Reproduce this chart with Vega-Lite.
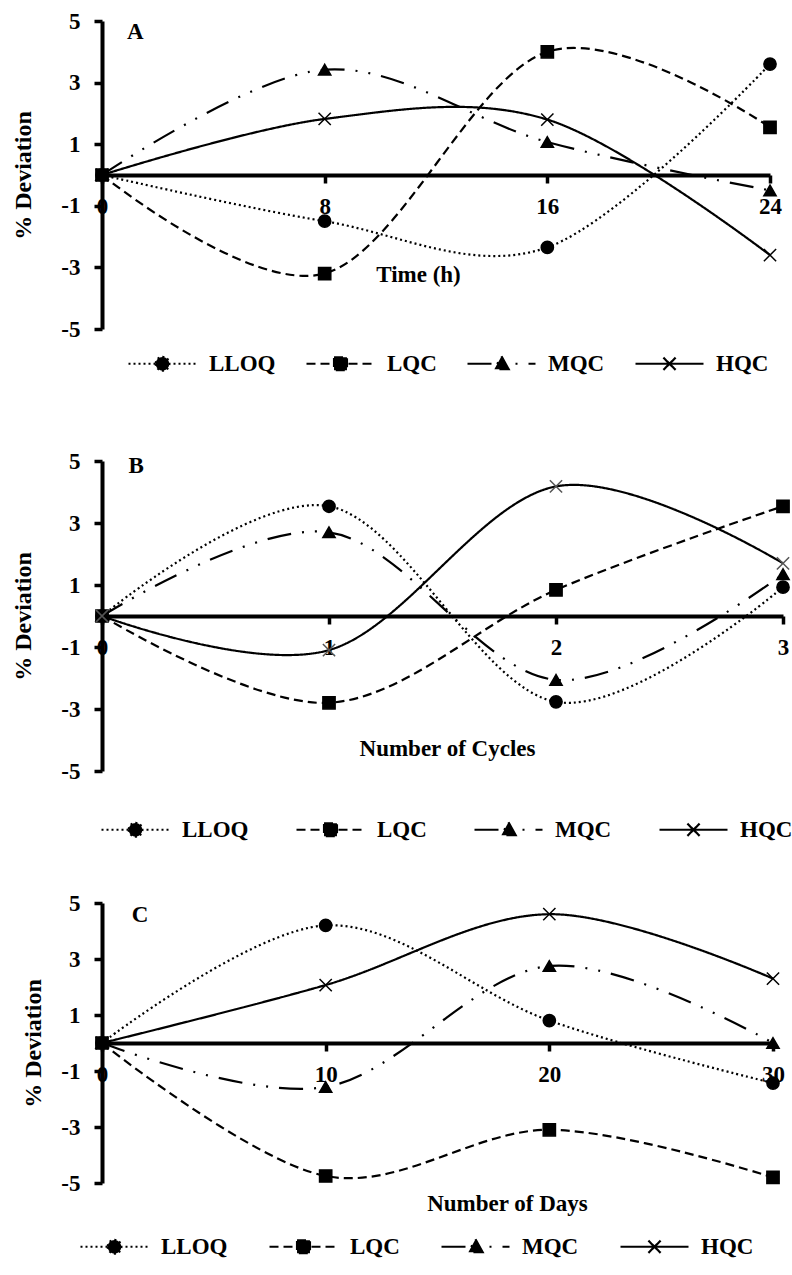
{
  "$schema": "https://vega.github.io/schema/vega-lite/v6.json",
  "background": "white",
  "padding": {"left": 11, "top": 10, "right": 0, "bottom": 0},
  "bounds": "flush",
  "spacing": 132,
  "resolve": {
    "scale": {"strokeDash": "independent", "shape": "independent"},
    "legend": {"strokeDash": "independent", "shape": "independent"}
  },
  "config": {
    "view": {"stroke": null},
    "font": "Liberation Serif",
    "axis": {
      "domainColor": "black", "domainWidth": 4, "tickColor": "black", "tickWidth": 3.5, "tickSize": 8,
      "labelFont": "Liberation Serif", "labelFontWeight": "bold", "labelFontSize": 23, "labelColor": "black",
      "titleFont": "Liberation Serif", "titleFontWeight": "bold", "titleFontSize": 23, "titleColor": "black",
      "grid": false, "labelFlush": false, "labelOverlap": false, "labelBound": false,
      "labelExpr": "'' + datum.value"
    },
    "legend": {
      "padding": 0, "labelFont": "Liberation Serif", "labelFontWeight": "bold", "labelFontSize": 23, "labelColor": "black",
      "symbolSize": 4624, "symbolStrokeWidth": 2.2, "labelOffset": 11, "symbolOpacity": 1,
      "symbolFillColor": "black", "symbolStrokeColor": "black"
    },
    "point": {"filled": true, "fill": "black", "stroke": "black", "strokeWidth": 1.5, "size": 150, "opacity": 1}
  },
  "datasets": {
    "A": [
      {"x": 0, "series": "LLOQ", "value": 0}, {"x": 8, "series": "LLOQ", "value": -1.5}, {"x": 16, "series": "LLOQ", "value": -2.35}, {"x": 24, "series": "LLOQ", "value": 3.6},
      {"x": 0, "series": "LQC", "value": 0}, {"x": 8, "series": "LQC", "value": -3.2}, {"x": 16, "series": "LQC", "value": 4.0}, {"x": 24, "series": "LQC", "value": 1.55},
      {"x": 0, "series": "MQC", "value": 0}, {"x": 8, "series": "MQC", "value": 3.42}, {"x": 16, "series": "MQC", "value": 1.07}, {"x": 24, "series": "MQC", "value": -0.5},
      {"x": 0, "series": "HQC", "value": 0}, {"x": 8, "series": "HQC", "value": 1.82}, {"x": 16, "series": "HQC", "value": 1.8}, {"x": 24, "series": "HQC", "value": -2.6}
    ],
    "B": [
      {"x": 0, "series": "LLOQ", "value": 0}, {"x": 1, "series": "LLOQ", "value": 3.54}, {"x": 2, "series": "LLOQ", "value": -2.77}, {"x": 3, "series": "LLOQ", "value": 0.93},
      {"x": 0, "series": "LQC", "value": 0}, {"x": 1, "series": "LQC", "value": -2.8}, {"x": 2, "series": "LQC", "value": 0.84}, {"x": 3, "series": "LQC", "value": 3.54},
      {"x": 0, "series": "MQC", "value": 0}, {"x": 1, "series": "MQC", "value": 2.7}, {"x": 2, "series": "MQC", "value": -2.06}, {"x": 3, "series": "MQC", "value": 1.35},
      {"x": 0, "series": "HQC", "value": 0}, {"x": 1, "series": "HQC", "value": -1.1}, {"x": 2, "series": "HQC", "value": 4.18}, {"x": 3, "series": "HQC", "value": 1.7}
    ],
    "C": [
      {"x": 0, "series": "LLOQ", "value": 0}, {"x": 10, "series": "LLOQ", "value": 4.2}, {"x": 20, "series": "LLOQ", "value": 0.8}, {"x": 30, "series": "LLOQ", "value": -1.43},
      {"x": 0, "series": "LQC", "value": 0}, {"x": 10, "series": "LQC", "value": -4.75}, {"x": 20, "series": "LQC", "value": -3.1}, {"x": 30, "series": "LQC", "value": -4.8},
      {"x": 0, "series": "MQC", "value": 0}, {"x": 10, "series": "MQC", "value": -1.57}, {"x": 20, "series": "MQC", "value": 2.75}, {"x": 30, "series": "MQC", "value": 0},
      {"x": 0, "series": "HQC", "value": 0}, {"x": 10, "series": "HQC", "value": 2.07}, {"x": 20, "series": "HQC", "value": 4.6}, {"x": 30, "series": "HQC", "value": 2.3}
    ]
  },
  "vconcat": [
    {
      "width": 668, "height": 308,
      "layer": [
        {
          "data": {"name": "A"},
          "encoding": {
            "x": {"field": "x", "type": "quantitative", "scale": {"domain": [0, 24], "nice": false, "zero": false},
                  "axis": {"values": [0, 8, 16, 24], "offset": -154, "title": "Time (h)", "titlePadding": 45, "titleX": 316, "labelPadding": 12}},
            "y": {"field": "value", "type": "quantitative", "scale": {"domain": [-5, 5], "nice": false},
                  "axis": {"values": [-5, -3, -1, 1, 3, 5], "title": "% Deviation", "titleFontSize": 24, "labelPadding": 14, "titlePadding": 25}}
          },
          "layer": [
            {
              "mark": {"type": "line", "interpolate": "cardinal", "strokeWidth": 2.2, "color": "black"},
              "encoding": {
                "strokeDash": {"field": "series", "type": "nominal",
                  "scale": {"domain": ["LLOQ", "LQC", "MQC", "HQC"], "range": [[2, 3], [9, 5], [24, 11, 2, 11, 2, 11], [1, 0]]},
                  "legend": {"orient": "none", "legendX": 25, "legendY": 307, "direction": "horizontal", "title": null, "columnPadding": 26,
                    "symbolSize": 4624, "symbolFillColor": "black", "symbolStrokeColor": "black", "symbolOpacity": 1}}
              }
            },
            {
              "mark": {"type": "point", "filled": true, "fill": "black", "stroke": "black", "strokeWidth": 2.2, "size": 0},
              "encoding": {
                "shape": {"field": "series", "type": "nominal",
                  "scale": {"domain": ["LLOQ", "LQC", "MQC", "HQC"], "range": ["M-1,0L1,0M-0.2,0A0.2,0.2 0 1,0 0.2,0A0.2,0.2 0 1,0 -0.2,0Z", "M-1,0L1,0M-0.19,-0.19L0.19,-0.19L0.19,0.19L-0.19,0.19Z", "M-1,0L1,0M0,-0.22L0.21,0.16L-0.21,0.16Z", "M-1,0L1,0M-0.18,-0.18L0.18,0.18M-0.18,0.18L0.18,-0.18"]},
                  "legend": null}
              }
            },
            {"transform": [{"filter": "datum.series === 'LLOQ'"}], "mark": {"type": "point", "shape": "circle"}},
            {"transform": [{"filter": "datum.series === 'LQC'"}], "mark": {"type": "point", "shape": "square"}},
            {"transform": [{"filter": "datum.series === 'MQC'"}], "mark": {"type": "point", "shape": "triangle-up"}},
            {"transform": [{"filter": "datum.series === 'HQC'"}], "mark": {"type": "point", "shape": "M-1,-1L1,1M-1,1L1,-1"}}
          ]
        },
        {
          "data": {"values": [{"label": "A"}]},
          "mark": {"type": "text", "font": "Liberation Serif", "fontWeight": "bold", "fontSize": 23, "color": "black", "align": "center", "baseline": "middle"},
          "encoding": {
            "x": {"datum": 1.2, "type": "quantitative"},
            "y": {"datum": 4.64, "type": "quantitative"},
            "text": {"field": "label"}
          }
        }
      ]
    },
    {
      "width": 681, "height": 310,
      "layer": [
        {
          "data": {"name": "B"},
          "encoding": {
            "x": {"field": "x", "type": "quantitative", "scale": {"domain": [0, 3], "nice": false, "zero": false},
                  "axis": {"values": [0, 1, 2, 3], "offset": -155, "title": "Number of Cycles", "titlePadding": 78, "titleX": 345, "labelPadding": 12}},
            "y": {"field": "value", "type": "quantitative", "scale": {"domain": [-5, 5], "nice": false},
                  "axis": {"values": [-5, -3, -1, 1, 3, 5], "title": "% Deviation", "titleFontSize": 24, "labelPadding": 14, "titlePadding": 25}}
          },
          "layer": [
            {
              "mark": {"type": "line", "interpolate": "cardinal", "strokeWidth": 2.2, "color": "black"},
              "encoding": {
                "strokeDash": {"field": "series", "type": "nominal",
                  "scale": {"domain": ["LLOQ", "LQC", "MQC", "HQC"], "range": [[2, 3], [9, 5], [24, 11, 2, 11, 2, 11], [1, 0]]},
                  "legend": {"orient": "none", "legendX": -2, "legendY": 333, "direction": "horizontal", "title": null, "columnPadding": 43,
                    "symbolSize": 4624, "symbolFillColor": "black", "symbolStrokeColor": "black", "symbolOpacity": 1}}
              }
            },
            {
              "mark": {"type": "point", "filled": true, "fill": "black", "stroke": "black", "strokeWidth": 2.2, "size": 0},
              "encoding": {
                "shape": {"field": "series", "type": "nominal",
                  "scale": {"domain": ["LLOQ", "LQC", "MQC", "HQC"], "range": ["M-1,0L1,0M-0.2,0A0.2,0.2 0 1,0 0.2,0A0.2,0.2 0 1,0 -0.2,0Z", "M-1,0L1,0M-0.19,-0.19L0.19,-0.19L0.19,0.19L-0.19,0.19Z", "M-1,0L1,0M0,-0.22L0.21,0.16L-0.21,0.16Z", "M-1,0L1,0M-0.18,-0.18L0.18,0.18M-0.18,0.18L0.18,-0.18"]},
                  "legend": null}
              }
            },
            {"transform": [{"filter": "datum.series === 'LLOQ'"}], "mark": {"type": "point", "shape": "circle"}},
            {"transform": [{"filter": "datum.series === 'LQC'"}], "mark": {"type": "point", "shape": "square"}},
            {"transform": [{"filter": "datum.series === 'MQC'"}], "mark": {"type": "point", "shape": "triangle-up"}},
            {"transform": [{"filter": "datum.series === 'HQC'"}], "mark": {"type": "point", "shape": "M-1,-1L1,1M-1,1L1,-1", "stroke": "#555555"}}
          ]
        },
        {
          "data": {"values": [{"label": "B"}]},
          "mark": {"type": "text", "font": "Liberation Serif", "fontWeight": "bold", "fontSize": 23, "color": "black", "align": "center", "baseline": "middle"},
          "encoding": {
            "x": {"datum": 0.15, "type": "quantitative"},
            "y": {"datum": 4.85, "type": "quantitative"},
            "text": {"field": "label"}
          }
        }
      ]
    },
    {
      "width": 671, "height": 280,
      "layer": [
        {
          "data": {"name": "C"},
          "encoding": {
            "x": {"field": "x", "type": "quantitative", "scale": {"domain": [0, 30], "nice": false, "zero": false},
                  "axis": {"values": [0, 10, 20, 30], "offset": -140, "title": "Number of Days", "titlePadding": 106, "titleX": 405, "labelPadding": 12}},
            "y": {"field": "value", "type": "quantitative", "scale": {"domain": [-5, 5], "nice": false},
                  "axis": {"values": [-5, -3, -1, 1, 3, 5], "title": "% Deviation", "titleFontSize": 24, "labelPadding": 14, "titlePadding": 15}}
          },
          "layer": [
            {
              "mark": {"type": "line", "interpolate": "cardinal", "strokeWidth": 2.2, "color": "black"},
              "encoding": {
                "strokeDash": {"field": "series", "type": "nominal",
                  "scale": {"domain": ["LLOQ", "LQC", "MQC", "HQC"], "range": [[2, 3], [9, 5], [24, 11, 2, 11, 2, 11], [1, 0]]},
                  "legend": {"orient": "none", "legendX": -23, "legendY": 308, "direction": "horizontal", "title": null, "columnPadding": 37,
                    "symbolSize": 4624, "symbolFillColor": "black", "symbolStrokeColor": "black", "symbolOpacity": 1}}
              }
            },
            {
              "mark": {"type": "point", "filled": true, "fill": "black", "stroke": "black", "strokeWidth": 2.2, "size": 0},
              "encoding": {
                "shape": {"field": "series", "type": "nominal",
                  "scale": {"domain": ["LLOQ", "LQC", "MQC", "HQC"], "range": ["M-1,0L1,0M-0.2,0A0.2,0.2 0 1,0 0.2,0A0.2,0.2 0 1,0 -0.2,0Z", "M-1,0L1,0M-0.19,-0.19L0.19,-0.19L0.19,0.19L-0.19,0.19Z", "M-1,0L1,0M0,-0.22L0.21,0.16L-0.21,0.16Z", "M-1,0L1,0M-0.18,-0.18L0.18,0.18M-0.18,0.18L0.18,-0.18"]},
                  "legend": null}
              }
            },
            {"transform": [{"filter": "datum.series === 'LLOQ'"}], "mark": {"type": "point", "shape": "circle"}},
            {"transform": [{"filter": "datum.series === 'LQC'"}], "mark": {"type": "point", "shape": "square"}},
            {"transform": [{"filter": "datum.series === 'MQC'"}], "mark": {"type": "point", "shape": "triangle-up"}},
            {"transform": [{"filter": "datum.series === 'HQC'"}], "mark": {"type": "point", "shape": "M-1,-1L1,1M-1,1L1,-1"}}
          ]
        },
        {
          "data": {"values": [{"label": "C"}]},
          "mark": {"type": "text", "font": "Liberation Serif", "fontWeight": "bold", "fontSize": 23, "color": "black", "align": "center", "baseline": "middle"},
          "encoding": {
            "x": {"datum": 1.7, "type": "quantitative"},
            "y": {"datum": 4.57, "type": "quantitative"},
            "text": {"field": "label"}
          }
        }
      ]
    }
  ]
}
